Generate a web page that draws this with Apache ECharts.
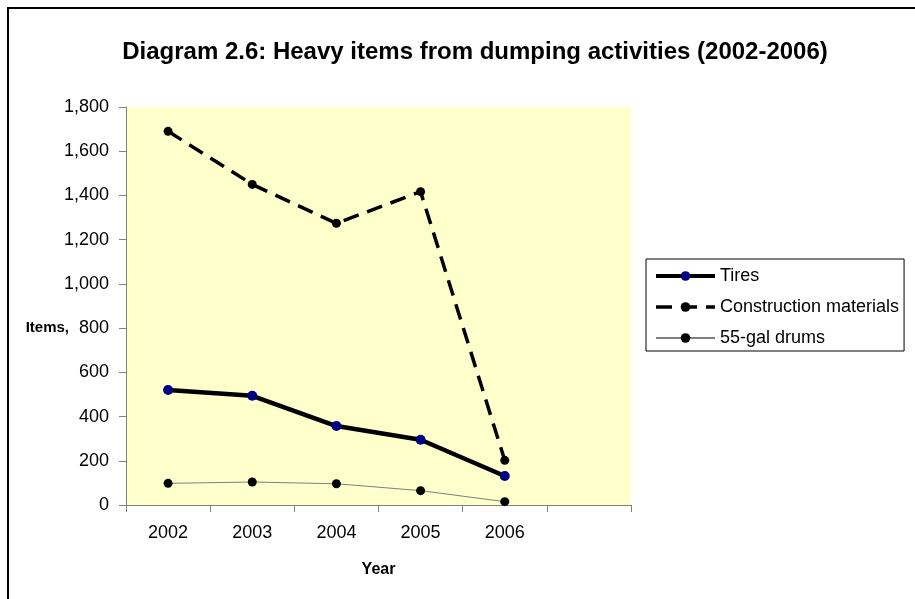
<!DOCTYPE html>
<html>
<head>
<meta charset="utf-8">
<script src="https://cdn.jsdelivr.net/npm/echarts@6/dist/echarts.min.js"></script>
<style>
  html, body { margin: 0; padding: 0; background: #fff; }
  #chart { width: 915px; height: 599px; }
</style>
</head>
<body>
<div id="chart"></div>
<script>
// ── data ─────────────────────────────────────────────
const years        = ['2002', '2003', '2004', '2005', '2006', ''];
const tires        = [520, 494, 357, 295, 131];
const construction = [1690, 1450, 1274, 1417, 202];
const drums        = [98, 104, 96, 65, 15];

const yTicks = { min: 0, max: 1800, interval: 200 };

const FONT = '"Liberation Sans", Arial, sans-serif';

const chart = echarts.init(document.getElementById('chart'));

chart.setOption({
  backgroundColor: '#fff',
  animation: false,
  title: {
    text: 'Diagram 2.6: Heavy items from dumping activities (2002-2006)',
    left: 470, top: 35, textAlign: 'center',
    textStyle: { fontFamily: FONT, fontSize: 24, fontWeight: 'bold', color: '#000' }
  },
  grid: {
    left: 126, top: 107, right: 284, bottom: 94,
    show: true, backgroundColor: '#ffffcc', borderWidth: 0
  },
  legend: {
    orient: 'vertical',
    left: 646, top: 259,
    padding: [8, 5, 4, 8],
    itemGap: 13,
    itemWidth: 59, itemHeight: 12,
    backgroundColor: '#fff',
    borderColor: '#000', borderWidth: 1,
    textStyle: { fontFamily: FONT, fontSize: 18, color: '#000' },
    data: [
      { name: 'Tires', lineStyle: { width: 4 } },
      { name: 'Construction materials', lineStyle: { width: 3.5 } },
      { name: '55-gal drums' }
    ]
  },
  xAxis: {
    type: 'category',
    data: years,
    boundaryGap: true,
    name: 'Year',
    nameLocation: 'middle',
    nameGap: 57,
    nameTextStyle: { fontFamily: FONT, fontSize: 16, fontWeight: 'bold', color: '#000' },
    axisLine: { lineStyle: { color: '#808080', width: 1 } },
    axisTick: { show: true, length: 7, lineStyle: { color: '#808080' } },
    axisLabel: { fontFamily: FONT, fontSize: 18, color: '#000', margin: 19 },
    splitLine: { show: false }
  },
  yAxis: {
    type: 'value',
    min: yTicks.min, max: yTicks.max, interval: yTicks.interval,
    axisLine: { show: true, lineStyle: { color: '#808080', width: 1 } },
    axisTick: { show: true, length: 7, lineStyle: { color: '#808080' } },
    axisLabel: {
      fontFamily: FONT, fontSize: 18, color: '#000', margin: 17,
      formatter: v => v.toLocaleString('en-US')
    },
    splitLine: { show: false }
  },
  series: [
    {
      name: 'Tires', type: 'line', data: tires,
      symbol: 'circle', symbolSize: 10,
      itemStyle: { color: '#000080' },
      lineStyle: { color: '#000', width: 4.5 }
    },
    {
      name: 'Construction materials', type: 'line', data: construction,
      symbol: 'circle', symbolSize: 9,
      itemStyle: { color: '#000' },
      lineStyle: { color: '#000', width: 3.5, type: [16, 9] }
    },
    {
      name: '55-gal drums', type: 'line', data: drums,
      symbol: 'circle', symbolSize: 9,
      itemStyle: { color: '#000' },
      lineStyle: { color: '#808080', width: 1 }
    }
  ],
  graphic: [
    {
      type: 'rect', silent: true, z: -1,
      shape: { x: 8, y: 8, width: 1000, height: 1000 },
      style: { fill: null, stroke: '#000', lineWidth: 2 }
    },
    {
      type: 'text', right: 915 - 69, top: 320,
      style: { text: 'Items,', font: 'bold 15px "Liberation Sans", Arial, sans-serif', fill: '#000' }
    }
  ]
});
</script>
</body>
</html>
